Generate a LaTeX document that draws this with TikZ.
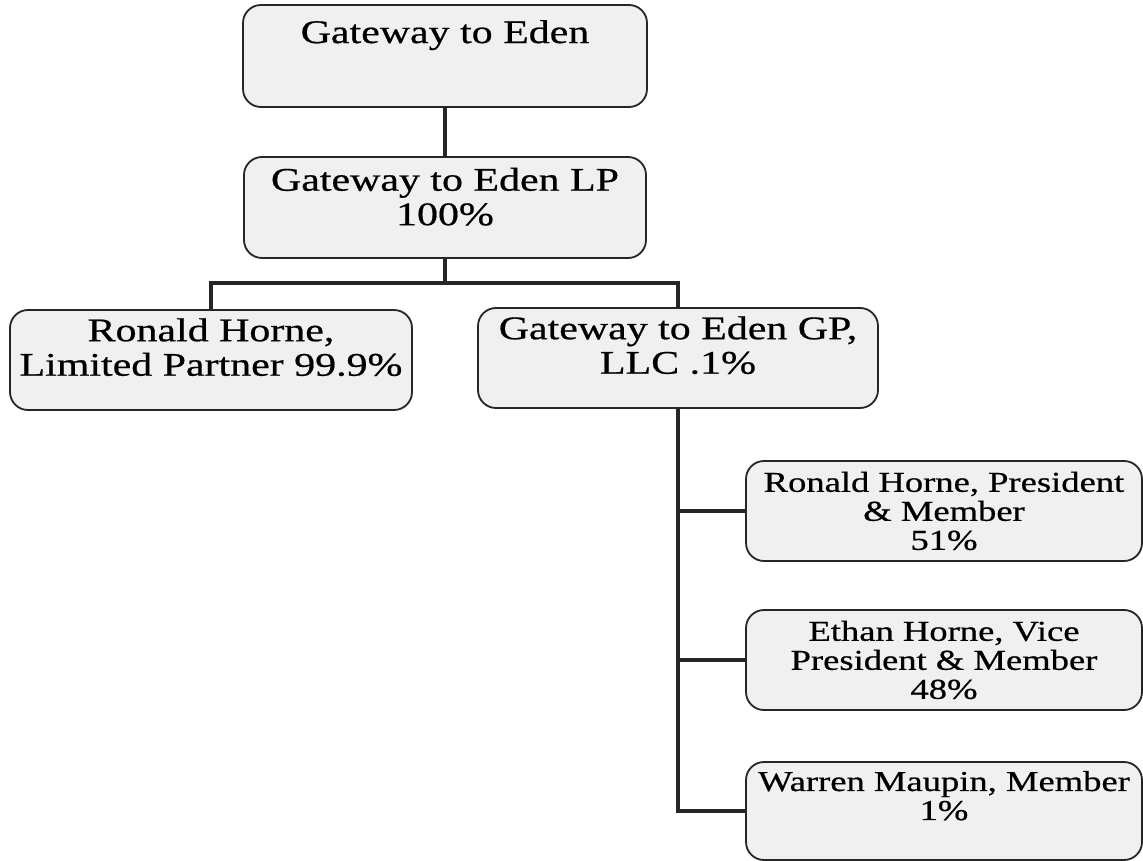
\documentclass[tikz,border=0pt]{standalone}
\usepackage{fontspec}
\setmainfont{Liberation Serif}[FakeStretch=1.27,FakeBold=0.6]
\begin{document}
\begin{tikzpicture}[x=1pt,y=-1pt,
  orgbox/.style={draw=black!85, line width=1.8pt, fill=gray!12, rounded corners=18pt, align=center, inner sep=0pt, text=black},
  bigtext/.style={font=\fontsize{33}{34.5}\selectfont},
  smalltext/.style={font=\fontsize{28.8}{29}\selectfont},
  link/.style={line width=4pt, draw=black!85}
]
\useasboundingbox (0,0) rectangle (1143,861);
\node[orgbox,bigtext,minimum width=404pt,minimum height=102pt] (eden) at (445,56) {Gateway to Eden\\[4pt]\strut};
\node[orgbox,bigtext,minimum width=402pt,minimum height=101pt,text depth=22pt] (lp) at (445,207.5) {Gateway to Eden LP\\100\%};
\node[orgbox,bigtext,minimum width=402pt,minimum height=100pt,text depth=26pt] (ronald) at (211,360) {Ronald Horne,\\Limited Partner 99.9\%};
\node[orgbox,bigtext,minimum width=400pt,minimum height=100pt,text depth=26pt] (gp) at (678,358) {Gateway to Eden GP,\\LLC .1\%};
\node[orgbox,smalltext,minimum width=396pt,minimum height=100pt] (pres) at (944,511) {Ronald Horne, President\\\& Member\\51\%};
\node[orgbox,smalltext,minimum width=396pt,minimum height=100pt] (vice) at (944,660) {Ethan Horne, Vice\\President \& Member\\48\%};
\node[orgbox,smalltext,minimum width=396pt,minimum height=98pt,text depth=31pt] (warren) at (944,811) {Warren Maupin, Member\\1\%};
\coordinate (bus) at (445,283);
\draw[link] (eden.south) -- (lp.north);
\draw[link] (lp.south) -- (bus) -| (ronald.north);
\draw[link] (bus) -| (gp.north);
\draw[link] (gp.south) |- (warren.west);
\draw[link] (gp.south |- pres.west) -- (pres.west);
\draw[link] (gp.south |- vice.west) -- (vice.west);
\end{tikzpicture}
\end{document}
